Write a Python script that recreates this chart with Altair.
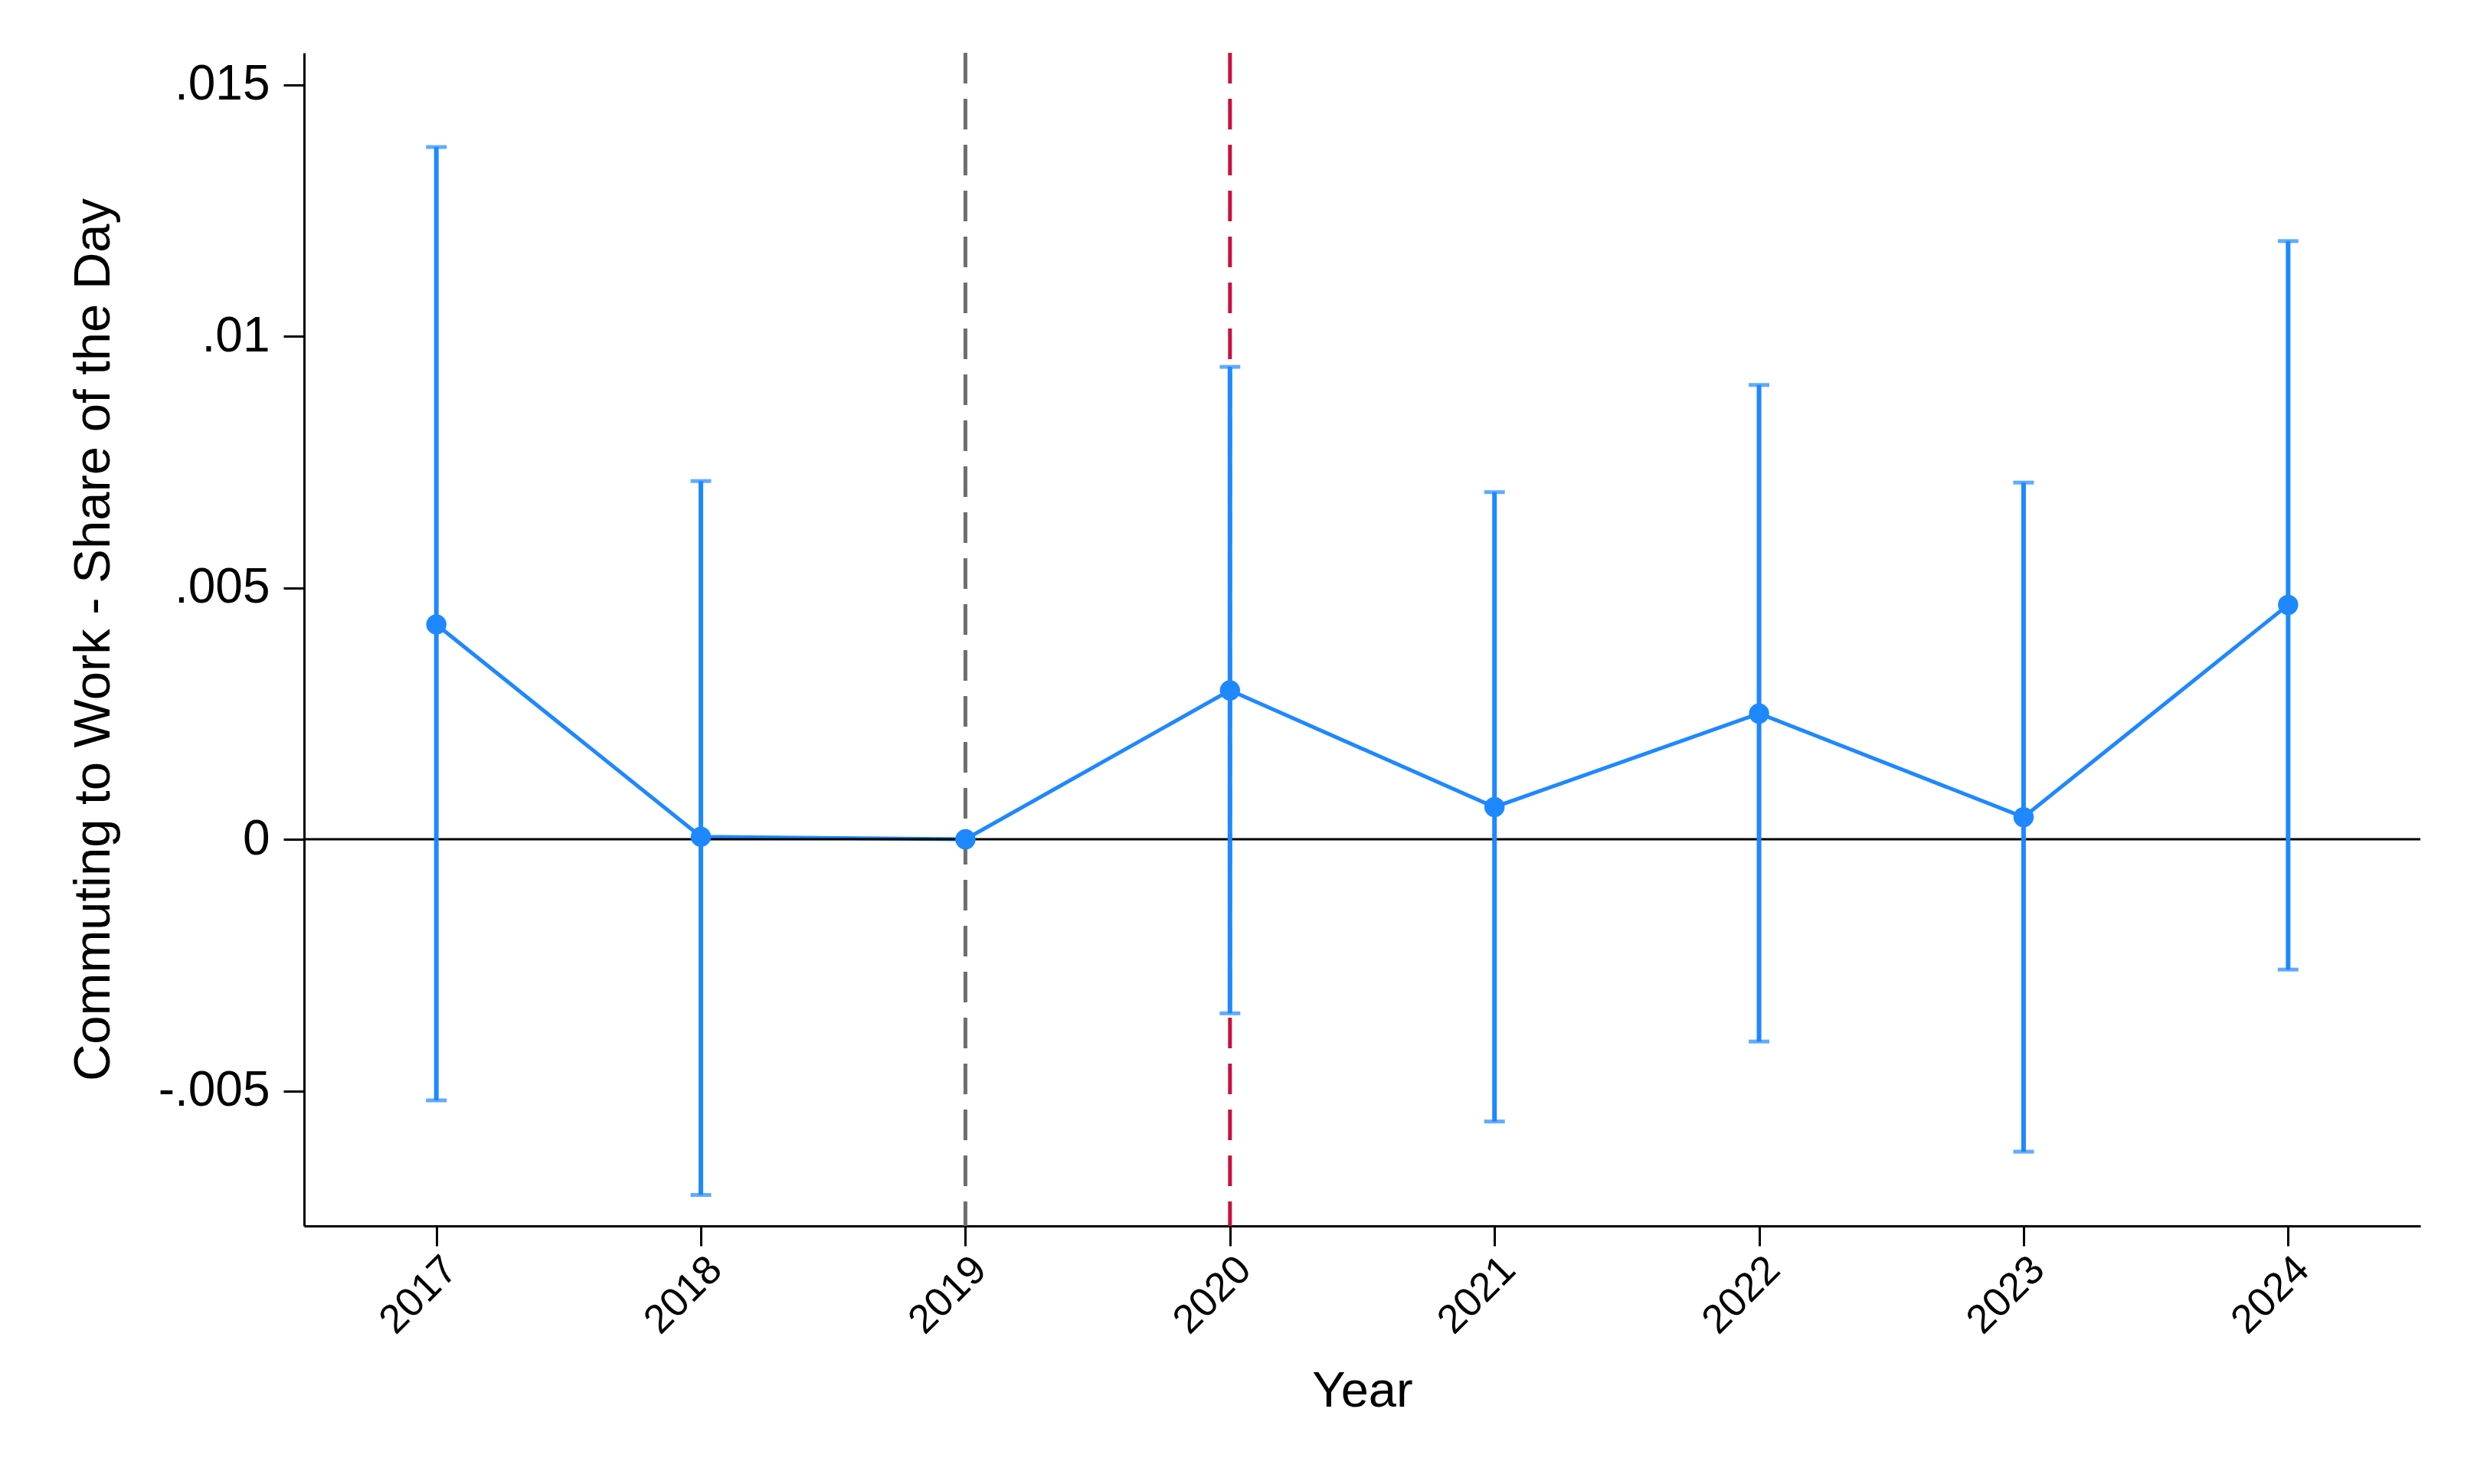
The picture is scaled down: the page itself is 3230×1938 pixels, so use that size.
import altair as alt
import pandas as pd

# ---- data ----
years = [2017, 2018, 2019, 2020, 2021, 2022, 2023, 2024]
coef = [0.00427, 0.00005, 0.0, 0.00296, 0.00064, 0.00250, 0.00044, 0.00466]
ci_low = [-0.00519, -0.00707, None, -0.00346, -0.00561, -0.00402, -0.00621, -0.00259]
ci_high = [0.01376, 0.00712, None, 0.00939, 0.00690, 0.00903, 0.00709, 0.01189]

y_ticks = [-0.005, 0, 0.005, 0.01, 0.015]
y_tick_labels = ["-.005", "0", ".005", ".01", ".015"]
x_ticks = years

ref_years = [2019, 2020]
ref_colors = ["#6E6E6E", "#C8103E"]

x_title = "Year"
y_title = "Commuting to Work - Share of the Day"

BLUE = "#1E88FF"
FONT = "Liberation Sans"

df = pd.DataFrame({"year": years, "coef": coef, "lo": ci_low, "hi": ci_high})
df_ci = df.dropna()
df_ref = pd.DataFrame({"year": ref_years, "color": ref_colors})
df_zero = pd.DataFrame({"y": [0]})

label_map = "{" + ",".join(f"'{v}':'{l}'" for v, l in zip(y_ticks, y_tick_labels)) + "}"

x_scale = alt.Scale(domain=[2016.5, 2024.5], nice=False, zero=False)
y_scale = alt.Scale(domain=[-0.007686, 0.015632], nice=False, zero=False)

x_axis = alt.Axis(
    values=x_ticks, format="d", labelAngle=-45, labelFontSize=53, labelFont=FONT,
    labelColor="black", tickSize=26, tickWidth=3, tickColor="black",
    domainColor="black", domainWidth=3, labelPadding=4, grid=False,
    title=x_title, titleFont=FONT, titleFontSize=65, titleFontWeight="normal",
    titleColor="black", titlePadding=34, labelFlush=False, labelOverlap=False,
)
y_axis = alt.Axis(
    values=y_ticks, labelExpr=f"{label_map}[toString(datum.value)] || datum.label",
    labelFontSize=64, labelFont=FONT, labelColor="black", tickSize=27, tickWidth=3,
    tickColor="black", domainColor="black", domainWidth=3, labelPadding=18, grid=False,
    title=y_title, titleFont=FONT, titleFontSize=67, titleFontWeight="normal",
    titleColor="black", titlePadding=50, labelFlush=False, labelOverlap=False,
)

base_x = alt.X("year:Q", scale=x_scale, axis=x_axis)

refs = alt.Chart(df_ref).mark_rule(strokeDash=[40, 20], strokeWidth=5).encode(
    x=alt.X("year:Q", scale=x_scale),
    color=alt.Color("color:N", scale=None, legend=None),
)

zero = alt.Chart(df_zero).mark_rule(color="black", strokeWidth=3).encode(
    y=alt.Y("y:Q", scale=y_scale)
)

bars = alt.Chart(df_ci).mark_rule(color=BLUE, strokeWidth=6).encode(
    x=alt.X("year:Q", scale=x_scale),
    y=alt.Y("lo:Q", scale=y_scale),
    y2="hi:Q",
)

caps_lo = alt.Chart(df_ci).mark_tick(color=BLUE, orient="horizontal", size=27, thickness=5).encode(
    x=alt.X("year:Q", scale=x_scale), y=alt.Y("lo:Q", scale=y_scale)
)
caps_hi = alt.Chart(df_ci).mark_tick(color=BLUE, orient="horizontal", size=27, thickness=5).encode(
    x=alt.X("year:Q", scale=x_scale), y=alt.Y("hi:Q", scale=y_scale)
)

line = alt.Chart(df).mark_line(color=BLUE, strokeWidth=5).encode(
    x=base_x,
    y=alt.Y("coef:Q", scale=y_scale, axis=y_axis),
)

points = alt.Chart(df).mark_point(color=BLUE, filled=True, opacity=1, size=700, shape="circle").encode(
    x=alt.X("year:Q", scale=x_scale), y=alt.Y("coef:Q", scale=y_scale)
)

chart = alt.layer(line, refs, zero, bars, caps_lo, caps_hi, points).properties(
    width=2763,
    height=1532,
    autosize=alt.AutoSizeParams(type="none"),
    padding={"left": 389, "top": 61, "right": 62, "bottom": 320},
    background="white",
).configure_view(stroke=None)

chart.save("out.html", embed_options={"renderer": "svg", "actions": False})
